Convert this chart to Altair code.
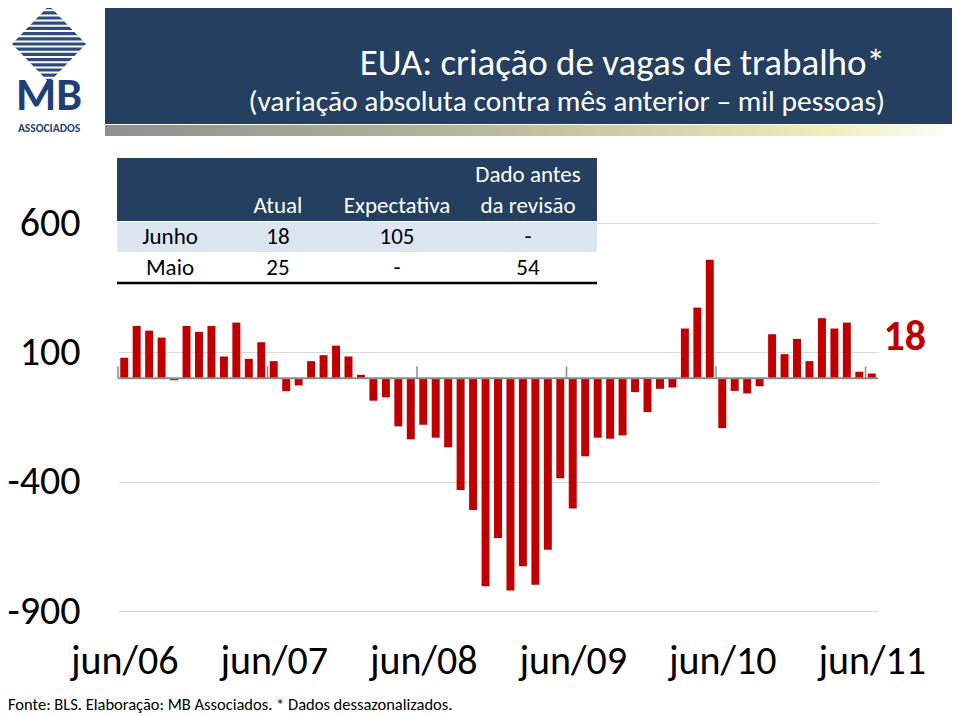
import json
import altair as alt
import pandas as pd

FONT = "Calibri, Carlito, Lato, sans-serif"

# ---------------- data ----------------
month_names = ["jun", "jul", "ago", "set", "out", "nov", "dez", "jan", "fev", "mar", "abr", "mai"]
month_labels = []
for yy in range(6, 11):
    for k, m in enumerate(month_names):
        yr = yy if k < 7 else yy + 1
        month_labels.append(f"{m}/{yr:02d}")
month_labels.append("jun/11")

values = [79, 202, 184, 157, -8, 202, 179, 202, 84, 215, 75, 139,
          66, -50, -28, 66, 89, 126, 84, 13, -87, -74, -186, -236,
          -180, -230, -267, -432, -510, -804, -618, -821, -727, -799, -663, -387,
          -504, -302, -230, -234, -221, -54, -131, -41, -36, 192, 273, 458,
          -193, -49, -59, -31, 170, 93, 152, 66, 232, 192, 215, 25,
          18]

tick_labels = ["jun/06", "jun/07", "jun/08", "jun/09", "jun/10", "jun/11"]
y_ticks = [600, 100, -400, -900]
year_bounds = [0, 12, 24, 36, 48, 60]

table_cols = ["Atual", "Expectativa", "Dado antes|da revisão"]
table_rows = ["Junho", "Maio"]
table_values = [["18", "105", "-"], ["25", "-", "54"]]

title = "EUA: criação de vagas de trabalho*"
subtitle = "(variação absoluta contra mês anterior – mil pessoas)"
footer = "Fonte: BLS. Elaboração: MB Associados. * Dados dessazonalizados."

# ---------------- layout helpers ----------------
OX, OY = 118, 223          # page position of plot origin
W, H = 760, 388


def X(p):
    return p - OX


def Y(p):
    return p - OY


one = pd.DataFrame({"a": [0]})


def rect(x1, y1, x2, y2, color):
    return alt.Chart(one).mark_rect(color=color).encode(
        x=alt.value(X(x1)), x2=alt.value(X(x2)), y=alt.value(Y(y1)), y2=alt.value(Y(y2)))


def hline(x1, x2, y, color, width):
    return alt.Chart(one).mark_rule(color=color, strokeWidth=width).encode(
        x=alt.value(X(x1)), x2=alt.value(X(x2)), y=alt.value(Y(y)))


def txt(s, x, y, size, color="#000000", align="center", weight="normal"):
    return alt.Chart(one).mark_text(text=s, fontSize=size, color=color, align=align,
                                    baseline="middle", font=FONT, fontWeight=weight).encode(
        x=alt.value(X(x)), y=alt.value(Y(y)))


# ---------------- chart ----------------
df = pd.DataFrame({"i": list(range(len(values))), "label": month_labels, "v": values})

xscale = alt.Scale(domain=[0, 61], nice=False, zero=False)
yscale = alt.Scale(domain=[-900, 600], nice=False, zero=False)

x_axis = alt.Axis(values=[0.5 + b for b in year_bounds],
                  labelExpr=json.dumps(tick_labels) + "[floor(datum.value / 12)]",
                  domain=False, ticks=False, tickSize=0, grid=False, labelFlush=False,
                  labelOverlap=False, labelFontSize=40, labelPadding=50, labelBaseline="middle",
                  labelColor="#000000", labelFont=FONT, title=None)
y_axis = alt.Axis(values=y_ticks, labelExpr="'' + datum.value",
                  domain=False, ticks=False, tickSize=0, grid=True,
                  gridColor="#d9d9d9", gridWidth=1, labelFontSize=40, labelPadding=38,
                  labelColor="#000000", labelFont=FONT, title=None, labelOverlap=False)

bars = alt.Chart(df).transform_calculate(
    x0="datum.i + 0.18", x1="datum.i + 0.82"
).mark_bar(color="#C00000").encode(
    x=alt.X("x0:Q", scale=xscale, axis=x_axis),
    x2="x1:Q",
    y=alt.Y("v:Q", scale=yscale, axis=y_axis),
    y2=alt.datum(0),
)

zero = alt.Chart(one).mark_rule(color="#8c8c8c", strokeWidth=2).encode(y=alt.datum(0))

ticks = alt.Chart(pd.DataFrame({"b": year_bounds})).mark_rule(
    color="#8c8c8c", strokeWidth=1.5).encode(
    x=alt.X("b:Q", scale=xscale, axis=x_axis),
    y=alt.datum(0), y2=alt.datum(46))

last_label = alt.Chart(df).transform_filter(f"datum.i == {len(values) - 1}").transform_calculate(
    xc="datum.i + 0.5"
).mark_text(color="#C00000", fontSize=42, fontWeight="bold", font=FONT, dx=33, dy=-37,
            baseline="middle", align="center").encode(
    x=alt.X("xc:Q", scale=xscale, axis=x_axis),
    y=alt.Y("v:Q", scale=yscale, axis=y_axis),
    text="v:Q")

layers = [bars, zero, ticks, last_label]

# header band
layers.append(rect(105, 0, 955, 124, "#243F60"))
grad = alt.LinearGradient(gradient="linear", x1=0, x2=1, y1=0, y2=0, stops=[
    alt.GradientStop(color="#8f8f8f", offset=0),
    alt.GradientStop(color="#b9b99a", offset=0.45),
    alt.GradientStop(color="#eeeeb8", offset=0.85),
    alt.GradientStop(color="#ffffff", offset=1)])
layers.append(alt.Chart(one).mark_rect(color=grad).encode(
    x=alt.value(X(105)), x2=alt.value(X(955)), y=alt.value(Y(125)), y2=alt.value(Y(136))))
layers.append(txt(title, 885, 64, 37, "#ffffff", "right"))
layers.append(txt(subtitle, 885, 102, 29.5, "#ffffff", "right"))

# logo
layers.append(alt.Chart(one).mark_point(shape="M0,-1L0.96,0L0,1L-0.96,0Z", size=77 * 77,
                                        filled=True, opacity=1, color="#2D4B7C", strokeWidth=0).encode(
    x=alt.value(X(49)), y=alt.value(Y(44))))
for k in range(1, 15):
    layers.append(hline(8, 90, 5 + k * 5.2, "#ffffff", 2))
layers.append(txt("MB", 49, 96, 46, "#1F3F77", "center", "bold"))
layers.append(txt("ASSOCIADOS", 49, 129, 11.5, "#1F3F77", "center", "bold"))

# table
col_x = [278, 397, 528]
layers.append(rect(117, 158, 597, 221, "#243F60"))
layers.append(rect(117, 222, 597, 252, "#DCE6F1"))
layers.append(hline(117, 597, 283, "#000000", 2.5))
for cx, c in zip(col_x, table_cols):
    parts = c.split("|")
    if len(parts) == 2:
        layers.append(txt(parts[0], cx, 175, 23, "#ffffff"))
        layers.append(txt(parts[1], cx, 206, 23, "#ffffff"))
    else:
        layers.append(txt(parts[0], cx, 206, 23, "#ffffff"))
for ry, rname, rvals in zip([237, 268], table_rows, table_values):
    layers.append(txt(rname, 170, ry, 23))
    for cx, v in zip(col_x, rvals):
        layers.append(txt(v, cx, ry, 23))

# footer
layers.append(txt(footer, 8, 705, 16.5, "#000000", "left"))

chart = alt.layer(*layers).properties(
    width=W, height=H,
    autosize=alt.AutoSizeParams(type="none"),
    padding={"left": 110, "top": 215, "right": 74, "bottom": 105},
    background="#ffffff",
).configure_view(stroke=None)

chart.save("out.html", embed_options={"renderer": "svg", "actions": False})
